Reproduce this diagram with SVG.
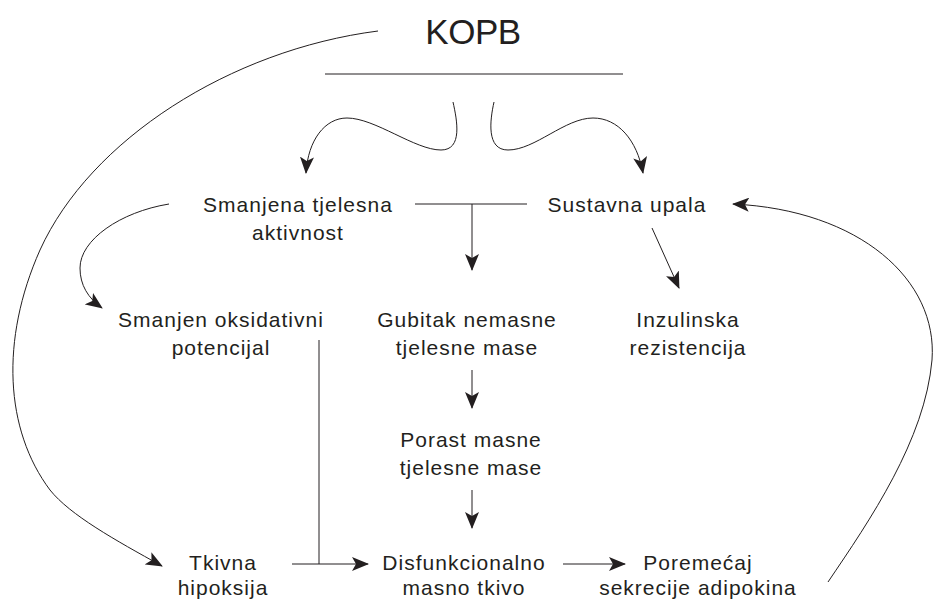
<svg xmlns="http://www.w3.org/2000/svg" width="933" height="601" viewBox="0 0 933 601">
<defs>
<style>
text{font-family:"Liberation Sans",Arial,sans-serif;fill:#231f20;text-anchor:middle}
.t{font-size:21px;letter-spacing:1px}
.title{font-size:35px;letter-spacing:-0.5px}
.c path,.c line{fill:none;stroke:#231f20;stroke-width:1}
.a{marker-end:url(#ah)}
</style>
<marker id="ah" viewBox="0 0 17 14" refX="16" refY="7" markerWidth="17" markerHeight="14" markerUnits="userSpaceOnUse" orient="auto">
<path d="M0,0 L17,7 L0,14 L4,7 Z" fill="#231f20"/>
</marker>
</defs>
<rect width="933" height="601" fill="#fff"/>
<g id="kopb"><text class="title" x="473" y="44">KOPB</text><line x1="325" y1="74" x2="623" y2="74" stroke="#231f20" stroke-width="1"/></g>
<g id="smanjena"><text class="t" x="298" y="212">Smanjena tjelesna</text><text class="t" x="298" y="240">aktivnost</text></g>
<g id="sustavna"><text class="t" x="627" y="212">Sustavna upala</text></g>
<g id="oksidativni"><text class="t" x="221" y="327">Smanjen oksidativni</text><text class="t" x="221" y="355">potencijal</text></g>
<g id="gubitak"><text class="t" x="467" y="327">Gubitak nemasne</text><text class="t" x="467" y="355">tjelesne mase</text></g>
<g id="inzulinska"><text class="t" x="688" y="327">Inzulinska</text><text class="t" x="688" y="355">rezistencija</text></g>
<g id="porast"><text class="t" x="471" y="447">Porast masne</text><text class="t" x="471" y="475">tjelesne mase</text></g>
<g id="tkivna"><text class="t" x="223" y="570">Tkivna</text><text class="t" x="223" y="595">hipoksija</text></g>
<g id="disfunkcionalno"><text class="t" x="464" y="570">Disfunkcionalno</text><text class="t" x="464" y="595">masno tkivo</text></g>
<g id="poremecaj"><text class="t" x="698" y="570">Poremećaj</text><text class="t" x="698" y="595">sekrecije adipokina</text></g>
<g id="connectors" class="c">
<path class="a" d="M453,102 C457,120 463,150 441,150 C415,150 375,118 347,118 C325,118 308,140 306,173"/>
<path class="a" d="M494,102 C490,120 486,150 508,150 C535,150 565,118 593,118 C618,118 637,140 643,173"/>
<path class="a" d="M378,31 C230,50 90,140 40,250 C0,340 5,430 50,490 C70,515 115,540 162,566"/>
<path class="a" d="M169,204 C120,212 80,240 80,268 C80,285 88,298 102,308"/>
<path d="M415,204 L527,204"/>
<path class="a" d="M472,204 L472,270"/>
<path class="a" d="M652,228 L679,288"/>
<path class="a" d="M472,370 L472,408"/>
<path class="a" d="M472,490 L472,528"/>
<path d="M319,340 L319,564"/>
<path class="a" d="M292,564 L368,564"/>
<path class="a" d="M563,564 L625,564"/>
<path class="a" d="M828,582 C870,520 925,440 932,360 C938,280 860,210 733,204"/>
</g>
</svg>
